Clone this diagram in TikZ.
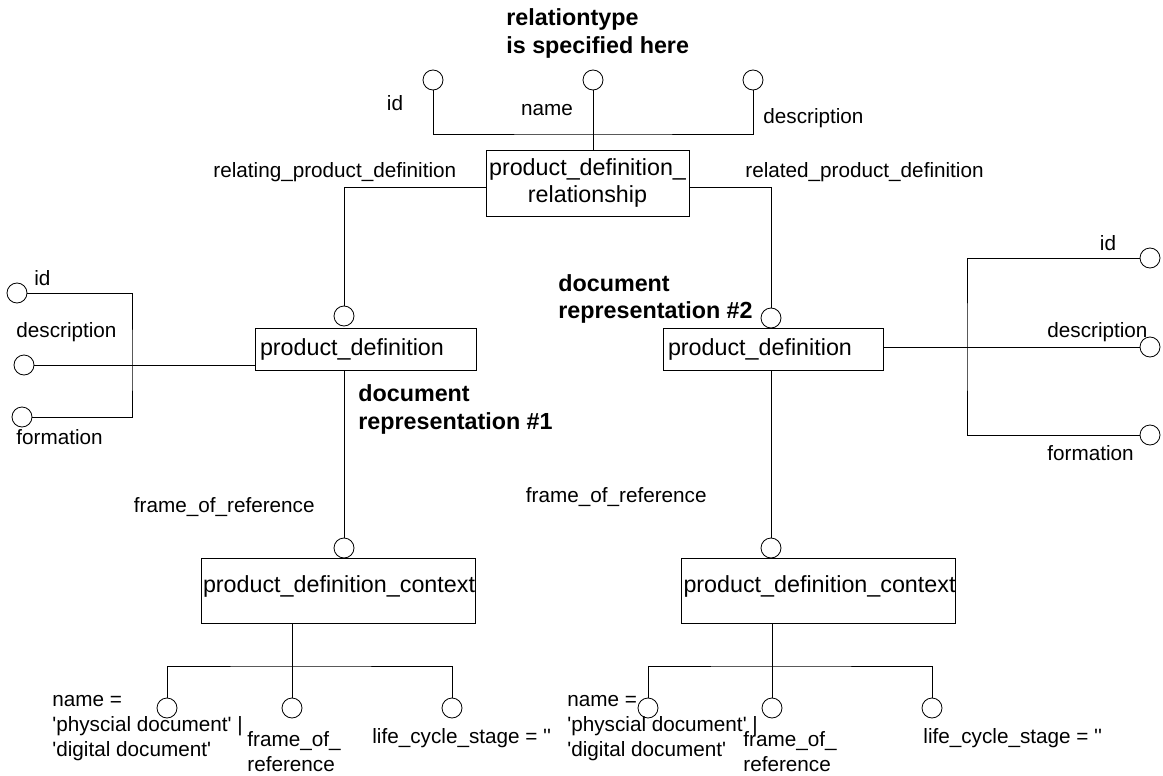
\documentclass[tikz,border=0pt]{standalone}
\usepackage{fontspec}
\setmainfont{Liberation Sans}
\newcommand\lblfont{\fontsize{20.7pt}{25pt}\selectfont}
\newcommand\boxfont{\fontsize{23.3pt}{27pt}\selectfont}
\newcommand\notefont{\bfseries\fontsize{23.3pt}{27.5pt}\selectfont}
\newcommand\tick{\textquotesingle}

\begin{document}
\begin{tikzpicture}[x=1pt, y=-1pt, line width=0.8pt,
    ent/.style={draw, font=\boxfont, inner ysep=0pt, align=left},
    ctx/.style={ent, text width=270pt, inner xsep=2pt, text height=25pt, text depth=22pt, inner ysep=9pt},
    attr/.style={circle, draw, minimum size=20pt, inner sep=0pt},
    lbl/.style={font=\lblfont, inner sep=0pt, align=left},
    note/.style={font=\notefont, inner sep=0pt, align=left}]
    \useasboundingbox (0,0) rectangle (1163,776);

    % entities
    \draw (587.5,183) node[ent, text width=197pt, inner xsep=3pt, align=center, minimum height=66pt] (pdr) {product\_definition\_\\relationship};
    \draw (365.5,349) node[ent, text width=211pt, inner xsep=5pt, minimum height=42pt] (pd1) {product\_definition};
    \draw (773,349) node[ent, text width=210pt, inner xsep=5pt, minimum height=42pt] (pd2) {product\_definition};
    \draw (338,590.5) node[ctx] (ctx1) {product\_definition\_context};
    \draw (818.5,590.5) node[ctx] (ctx2) {product\_definition\_context};

    % attribute circles
    \draw (433,80) node[attr] (r_id) {};
    \draw (593,80) node[attr] (r_name) {};
    \draw (753,80) node[attr] (r_desc) {};
    \draw (344,316) node[attr] (relating) {};
    \draw (771,318) node[attr] (related) {};
    \draw (17,293) node[attr] (a_id1) {};
    \draw (24,365) node[attr] (a_desc1) {};
    \draw (22,417) node[attr] (a_form1) {};
    \draw (1150,258) node[attr] (a_id2) {};
    \draw (1150,347) node[attr] (a_desc2) {};
    \draw (1150,435) node[attr] (a_form2) {};
    \draw (344,548) node[attr] (frame1) {};
    \draw (771,548) node[attr] (frame2) {};
    \draw (167,708) node[attr] (c_name1) {};
    \draw (292,708) node[attr] (c_frame1) {};
    \draw (452,708) node[attr] (c_life1) {};
    \draw (648,708) node[attr] (c_name2) {};
    \draw (772,708) node[attr] (c_frame2) {};
    \draw (932,708) node[attr] (c_life2) {};

    % branch points
    \coordinate (j_top) at (593,134);
    \coordinate (j_att1) at (132,365);
    \coordinate (j_att2) at (967,347);
    \coordinate (j_ctx1) at (292,666);
    \coordinate (j_ctx2) at (772,666);

    % connectors
    \draw (r_id) |- (j_top) -| (r_desc);
    \draw (r_name) -- (r_name |- pdr.north);
    \draw ([yshift=-4pt]pdr.west) -| (relating);
    \draw ([yshift=-4pt]pdr.east) -| (related);
    \draw (a_id1) -| (j_att1) |- (a_form1);
    \draw (a_desc1) -- (a_desc1 -| pd1.west);
    \draw (a_id2) -| (j_att2) |- (a_form2);
    \draw (pd2.east |- a_desc2) -- (a_desc2);
    \draw (pd1.south -| frame1) -- (frame1);
    \draw (pd2.south -| frame2) -- (frame2);
    \draw (ctx1.south -| j_ctx1) -- (c_frame1);
    \draw (c_name1) |- (j_ctx1) -| (c_life1);
    \draw (ctx2.south -| j_ctx2) -- (c_frame2);
    \draw (c_name2) |- (j_ctx2) -| (c_life2);

    % notes
    \draw (506,33.5) node[note, anchor=west] (n_type) {relationtype\\is specified here};
    \draw (358,409.5) node[note, anchor=west] (n_doc1) {document\\representation \#1};
    \draw (558,299) node[note, anchor=west] (n_doc2) {document\\representation \#2};

    % labels
    \draw (395,103) node[lbl] (t_rid) {id};
    \draw (547,110) node[lbl] (t_rname) {name};
    \draw (763,118) node[lbl, anchor=west] (t_rdesc) {description};
    \draw (213,172) node[lbl, anchor=west] (t_relating) {relating\_product\_definition};
    \draw (745,172) node[lbl, anchor=west] (t_related) {related\_product\_definition};
    \draw (34,278) node[lbl, anchor=west] (t_id1) {id};
    \draw (16,332) node[lbl, anchor=west] (t_desc1) {description};
    \draw (16,437) node[lbl, anchor=west] (t_form1) {formation};
    \draw (1108,243) node[lbl] (t_id2) {id};
    \draw (1047,332) node[lbl, anchor=west] (t_desc2) {description};
    \draw (1047,453) node[lbl, anchor=west] (t_form2) {formation};
    \draw (315,507) node[lbl, anchor=east] (t_frame1) {frame\_of\_reference};
    \draw (707,497) node[lbl, anchor=east] (t_frame2) {frame\_of\_reference};
    \draw (52,728) node[lbl, anchor=west] (t_name1) {name =\\\tick physcial document\tick\ \textbar\\\tick digital document\tick};
    \draw (247,752) node[lbl, anchor=west] (t_cframe1) {frame\_of\_\\reference};
    \draw (372,738) node[lbl, anchor=west] (t_life1) {life\_cycle\_stage = \tick\tick};
    \draw (567,728) node[lbl, anchor=west] (t_name2) {name =\\\tick physcial document\tick\ \textbar\\\tick digital document\tick};
    \draw (743,752) node[lbl, anchor=west] (t_cframe2) {frame\_of\_\\reference};
    \draw (923,738) node[lbl, anchor=west] (t_life2) {life\_cycle\_stage = \tick\tick};
\end{tikzpicture}
\end{document}
